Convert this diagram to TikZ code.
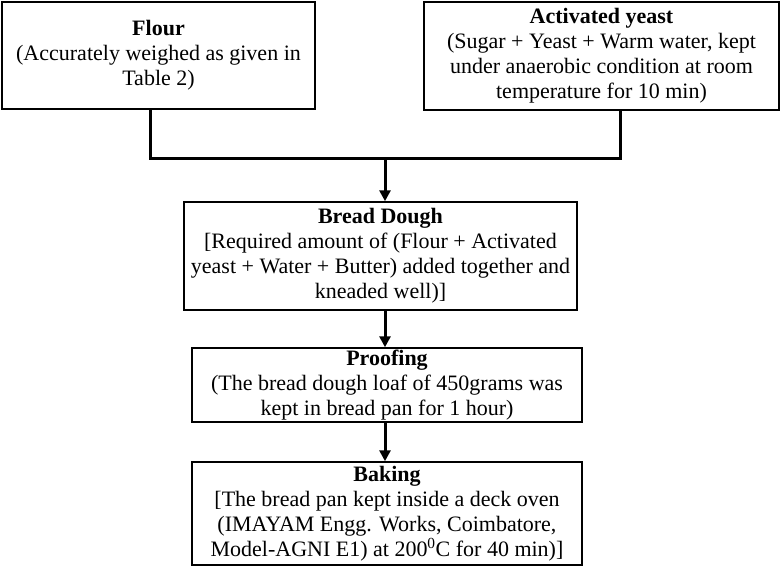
\documentclass[tikz,border=0pt]{standalone}
\usepackage{fontspec}
\setmainfont{Liberation Serif}
\usetikzlibrary{arrows.meta}
\begin{document}
\begin{tikzpicture}[x=1pt,y=-1pt,
  stage/.style={draw,line width=1.5pt,inner sep=0pt,align=center,
    font=\fontsize{22}{25}\selectfont},
  link/.style={line width=3pt},
  arr/.style={line width=3pt,-{Triangle[length=11pt,width=11pt]}}]
  \useasboundingbox (0,0) rectangle (782,567);
  % ingredients
  \node[stage,minimum width=313pt,minimum height=107pt] (flour) at (158.5,55.5)
    {\textbf{Flour}\\(Accurately weighed as given in\\Table 2)};
  \node[stage,minimum width=355pt,minimum height=108pt] (yeast) at (601.5,56)
    {\textbf{Activated yeast}\\(Sugar + Yeast + Warm water, kept\\under anaerobic condition at room\\temperature for 10 min)};
  % process steps
  \node[stage,minimum width=393pt,minimum height=108pt] (dough) at (380.5,256)
    {\textbf{Bread Dough}\\{}[Required amount of (Flour + Activated\\yeast + Water + Butter) added together and\\kneaded well)]};
  \node[stage,minimum width=390pt,minimum height=74pt] (proof) at (387,385)
    {\textbf{Proofing}\\(The bread dough loaf of 450grams was\\kept in bread pan for 1 hour)};
  \node[stage,minimum width=390pt,minimum height=103pt] (bake) at (387,513.5)
    {\textbf{Baking}\\{}[The bread pan kept inside a deck oven\\(IMAYAM Engg. Works, Coimbatore,\\Model-AGNI E1) at 200\textsuperscript{0}C for 40 min)]};

  \coordinate (join) at (385,159);
  \draw[link] ([xshift=-8.5pt]flour.south) |- (join) -| ([xshift=18.5pt]yeast.south);
  \draw[arr] (join) -- (join |- dough.north);
  \draw[arr] ([xshift=4.5pt]dough.south) -- ([xshift=4.5pt]dough.south |- proof.north);
  \draw[arr] ([xshift=-2pt]proof.south) -- ([xshift=-2pt]proof.south |- bake.north);
\end{tikzpicture}
\end{document}
